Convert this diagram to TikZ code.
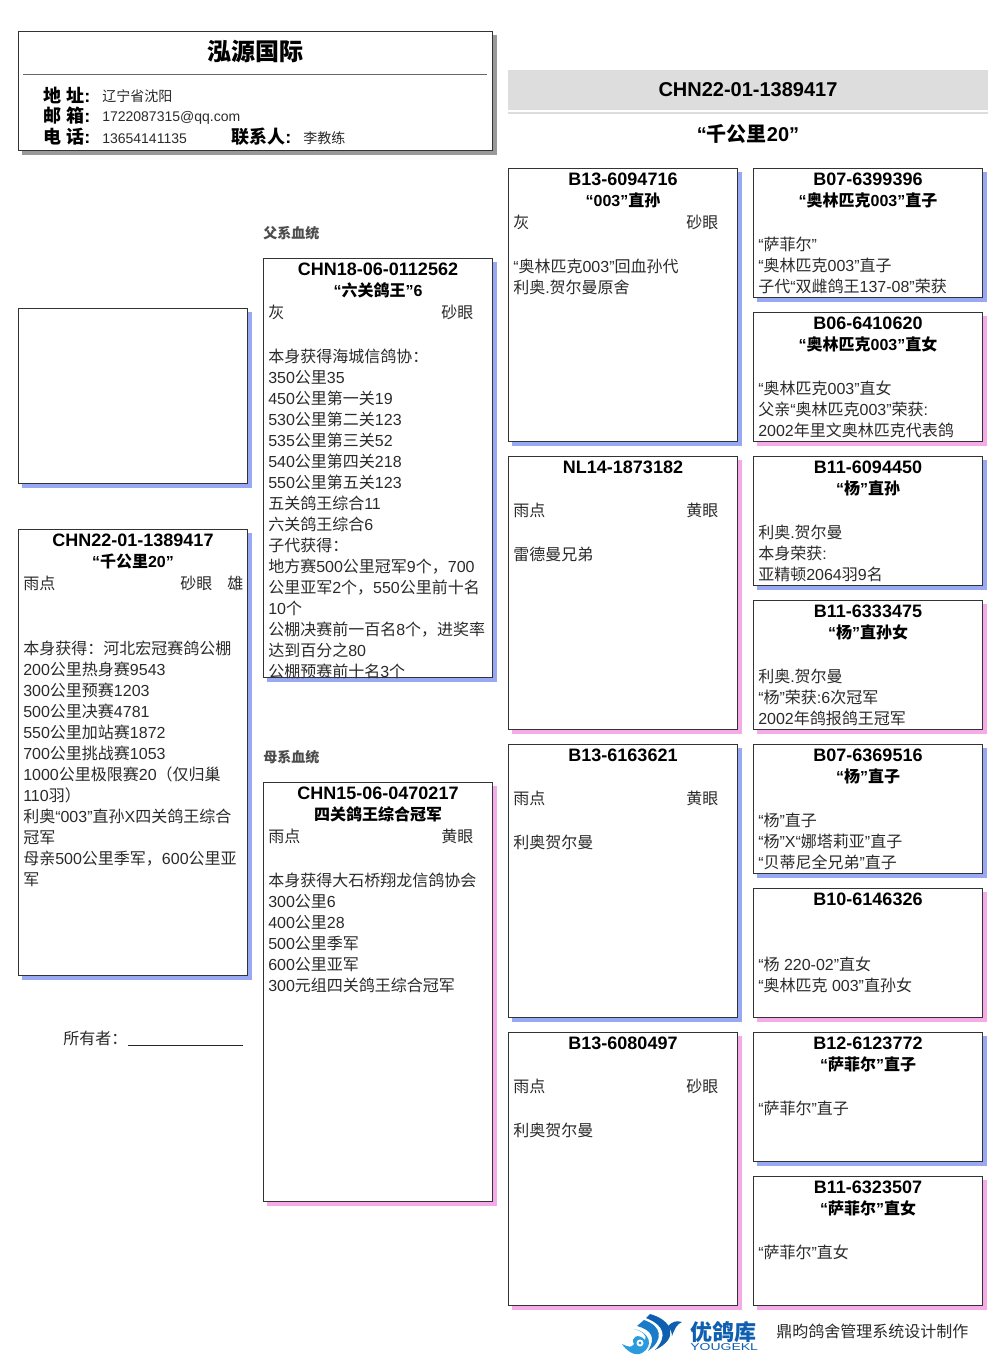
\documentclass[tikz,border=0pt]{standalone}
\usepackage{fontspec}
\setmainfont{Liberation Sans}
\newfontfamily\cjkfam{Noto Sans CJK SC}
\XeTeXinterchartokenstate=1
\newXeTeXintercharclass\cjkclass
\newcount\cjkcnt
\def\cjkrange#1#2{\cjkcnt=#1\relax\loop\XeTeXcharclass\cjkcnt=\cjkclass\ifnum\cjkcnt<#2\advance\cjkcnt by 1\repeat}
\cjkrange{"4E00}{"9FFF}
\cjkrange{"FF00}{"FFEF}
\cjkrange{"3000}{"303F}
\XeTeXinterchartoks 0 \cjkclass={\cjkfam}
\XeTeXinterchartoks 4095 \cjkclass={\cjkfam}
\XeTeXinterchartoks \cjkclass 0={\rmfamily}
\XeTeXinterchartoks \cjkclass 4095={\rmfamily}
\usetikzlibrary{calc}
\definecolor{sblue}{HTML}{99A8F2}
\definecolor{spink}{HTML}{F5ABE8}
\definecolor{sgray}{HTML}{999999}
\definecolor{txt}{HTML}{2A2A2A}
\definecolor{logoa}{HTML}{0F5FB0}
\definecolor{logob}{HTML}{2A9BDD}
\definecolor{logoc}{HTML}{1A7CC8}
\tikzset{
 x=0.75pt,y=-0.75pt,
 boxline/.style={draw=black!80,fill=white,line width=0.75pt,outer sep=0pt},
 idtext/.style={font=\fontsize{13.5}{15.75}\selectfont\bfseries,text=black,inner sep=0pt,anchor=center},
 titletext/.style={font=\fontsize{12}{15.75}\selectfont\bfseries,text=black,inner sep=0pt,anchor=center},
 bodytext/.style={font=\fontsize{12}{15.75}\selectfont,text=txt,inner sep=0pt,anchor=north west,align=left},
 smalltext/.style={font=\fontsize{10.5}{12}\selectfont,text=txt,inner sep=0pt,anchor=west},
 headlabel/.style={font=\fontsize{13.5}{15}\selectfont\bfseries,text=black,inner sep=0pt,anchor=west},
 sidelabel/.style={font=\fontsize{10.5}{12}\selectfont\bfseries,text=black!70,inner sep=0pt,anchor=west},
 bannertext/.style={font=\fontsize{15}{18}\selectfont\bfseries,text=black,inner sep=0pt,anchor=center},
}
% #1 name #2 x0 #3 y0 #4 x1 #5 y1 #6 shadow colour
\newcommand{\cardbox}[6]{%
 \fill[#6] (#2+4,#3+4) rectangle (#4+4,#5+4);
 \node[boxline,minimum width=(#4-#2-0.5)*0.75pt,minimum height=(#5-#3-0.5)*0.75pt,inner sep=0pt,anchor=north west] (#1) at (#2+0.25,#3+0.25) {};}
% small card: name x y h colour id title body bodyY
\newcommand{\smallcard}[9]{%
 \cardbox{#1}{#2}{#3}{#2+230}{#3+#4}{#5}
 \node[idtext] (#1id) at (#2+115,#3+11) {#6};
 \node[titletext] (#1t) at (#2+115,#3+32) {#7};
 \node[bodytext] (#1b) at (#2+5,#3+#9) {#8};}
\newcommand{\eyerow}[6]{%
 \node[bodytext,anchor=west] (#1c) at (#2+5,#3) {#4};
 \node[bodytext,anchor=west] (#1e) at (#5,#3) {#6};}
\begin{document}
\begin{tikzpicture}
\useasboundingbox (0,0) rectangle (1006,1366);
\fill[white] (0,0) rectangle (1006,1366);

% Header
\cardbox{head}{18}{31}{493}{151}{sgray}
\draw[black!60,line width=0.75pt] (23,74.5) -- (487,74.5);
\node[font=\fontsize{18}{20}\selectfont\bfseries,text=black,inner sep=0pt] (htitle) at (255.5,51) {泓源国际};
\node[headlabel] (l1) at (43,95) {地 址:};
\node[headlabel] (l2) at (43,116) {邮 箱:};
\node[headlabel] (l3) at (43,137) {电 话:};
\node[smalltext] (v1) at (102,96) {辽宁省沈阳};
\node[smalltext] (v2) at (102,118) {1722087315@qq.com};
\node[smalltext] (v3) at (102,139) {13654141135};
\node[headlabel] (l4) at (231,137) {联系人:};
\node[smalltext] (v4) at (303,138) {李教练};

% Banner
\fill[black!13.5] (508,70) rectangle (988,110);
\fill[black!13.5] (508,112) rectangle (988,114);
\node[bannertext] (ring) at (748,90) {CHN22-01-1389417};
\node[bannertext] (name) at (748,134) {“千公里20”};

% Photo
\cardbox{photo}{18}{308}{248}{484}{sblue}

% Main pigeon
\cardbox{main}{18}{529}{248}{976}{sblue}
\node[idtext] (mainid) at (133,540) {CHN22-01-1389417};
\node[titletext] (maint) at (133,561) {“千公里20”};
\node[bodytext,anchor=west] (mainc) at (23,583) {雨点};
\node[bodytext,anchor=west] (maine) at (180,583) {砂眼};
\node[bodytext,anchor=west] (mains) at (227,583) {雄};
\node[bodytext] (mainb) at (23,641) {本身获得：河北宏冠赛鸽公棚\\200公里热身赛9543\\300公里预赛1203\\500公里决赛4781\\550公里加站赛1872\\700公里挑战赛1053\\1000公里极限赛20（仅归巢\\110羽）\\利奥“003”直孙X四关鸽王综合\\冠军\\母亲500公里季军，600公里亚\\军};
\node[bodytext,anchor=west] (owner) at (63,1038) {所有者：};
\coordinate (ownera) at (128,1045.5);
\coordinate (ownerb) at (243,1045.5);
\draw[black!85,line width=0.75pt] (ownera) -- (ownerb);

% Father
\node[sidelabel] (fl) at (263,233.5) {父系血统};
\cardbox{fa}{263}{258}{493}{678}{sblue}
\node[idtext] (faid) at (378,269) {CHN18-06-0112562};
\node[titletext] (fat) at (378,290) {“六关鸽王”6};
\eyerow{fa}{263}{312}{灰}{441}{砂眼}
\begin{scope}
\clip (263,258) rectangle (493,678);
\node[bodytext] (fab) at (268,349) {本身获得海城信鸽协：\\350公里35\\450公里第一关19\\530公里第二关123\\535公里第三关52\\540公里第四关218\\550公里第五关123\\五关鸽王综合11\\六关鸽王综合6\\子代获得：\\地方赛500公里冠军9个，700\\公里亚军2个，550公里前十名\\10个\\公棚决赛前一百名8个，进奖率\\达到百分之80\\公棚预赛前十名3个};
\end{scope}
\draw[black!80,line width=0.75pt] (fa.north west) rectangle (fa.south east);

% Mother
\node[sidelabel] (ml) at (263,757.5) {母系血统};
\cardbox{mo}{263}{782}{493}{1202}{spink}
\node[idtext] (moid) at (378,793) {CHN15-06-0470217};
\node[titletext] (mot) at (378,814) {四关鸽王综合冠军};
\eyerow{mo}{263}{836}{雨点}{441}{黄眼}
\node[bodytext] (mob) at (268,873) {本身获得大石桥翔龙信鸽协会\\300公里6\\400公里28\\500公里季军\\600公里亚军\\300元组四关鸽王综合冠军};

% Grandparents
\cardbox{ga}{508}{168}{738}{442}{sblue}
\node[idtext] (gaid) at (623,179) {B13-6094716};
\node[titletext] (gat) at (623,200) {“003”直孙};
\eyerow{ga}{508}{222}{灰}{686}{砂眼}
\node[bodytext] (gab) at (513,259) {“奥林匹克003”回血孙代\\利奥.贺尔曼原舍};

\cardbox{gb}{508}{456}{738}{730}{spink}
\node[idtext] (gbid) at (623,467) {NL14-1873182};
\eyerow{gb}{508}{510}{雨点}{686}{黄眼}
\node[bodytext] (gbb) at (513,547) {雷德曼兄弟};

\cardbox{gc}{508}{744}{738}{1018}{sblue}
\node[idtext] (gcid) at (623,755) {B13-6163621};
\eyerow{gc}{508}{798}{雨点}{686}{黄眼}
\node[bodytext] (gcb) at (513,835) {利奥贺尔曼};

\cardbox{gd}{508}{1032}{738}{1306}{spink}
\node[idtext] (gdid) at (623,1043) {B13-6080497};
\eyerow{gd}{508}{1086}{雨点}{686}{砂眼}
\node[bodytext] (gdb) at (513,1123) {利奥贺尔曼};

% Great-grandparents
\smallcard{ha}{753}{168}{130}{sblue}{B07-6399396}{“奥林匹克003”直子}{“萨菲尔”\\“奥林匹克003”直子\\子代“双雌鸽王137-08”荣获}{69}
\smallcard{hb}{753}{312}{130}{spink}{B06-6410620}{“奥林匹克003”直女}{“奥林匹克003”直女\\父亲“奥林匹克003”荣获:\\2002年里文奥林匹克代表鸽}{69}
\smallcard{hc}{753}{456}{130}{sblue}{B11-6094450}{“杨”直孙}{利奥.贺尔曼\\本身荣获:\\亚精顿2064羽9名}{69}
\smallcard{hd}{753}{600}{130}{spink}{B11-6333475}{“杨”直孙女}{利奥.贺尔曼\\“杨”荣获:6次冠军\\2002年鸽报鸽王冠军}{69}
\smallcard{he}{753}{744}{130}{sblue}{B07-6369516}{“杨”直子}{“杨”直子\\“杨”X“娜塔莉亚”直子\\“贝蒂尼全兄弟”直子}{69}
\smallcard{hf}{753}{888}{130}{spink}{B10-6146326}{}{“杨 220-02”直女\\“奥林匹克 003”直孙女}{69}
\smallcard{hg}{753}{1032}{130}{sblue}{B12-6123772}{“萨菲尔”直子}{“萨菲尔”直子}{69}
\smallcard{hh}{753}{1176}{130}{spink}{B11-6323507}{“萨菲尔”直女}{“萨菲尔”直女}{69}

% Footer logo
\fill[logoa] (650,1314) .. controls (672,1320) and (680,1338) .. (655,1350) .. controls (668,1336) and (664,1325) .. (646,1318) -- cycle;
\fill[logoc] (644,1320) .. controls (662,1326) and (664,1340) .. (648,1351) .. controls (656,1338) and (652,1330) .. (637,1326) -- cycle;
\fill[logob] (634,1329) .. controls (650,1332) and (654,1346) .. (642,1353) .. controls (634,1357) and (626,1350) .. (622,1344) .. controls (628,1347) and (632,1348) .. (634,1344) .. controls (630,1338) and (638,1332) .. (645,1340) .. controls (648,1336) and (642,1331) .. (634,1329) -- cycle;
\fill[white] (640,1343) circle (3.5);
\fill[logob] (640,1343) circle (1.6);
\fill[logoa] (668,1326) .. controls (672,1322) and (676,1320) .. (682,1322) .. controls (677,1324) and (675,1328) .. (672,1336) .. controls (672,1332) and (670,1329) .. (668,1326) -- cycle;
\node[font=\fontsize{16.5}{18}\selectfont\bfseries,text=logoa,inner sep=0pt,anchor=west] (lg) at (690,1332) {优鸽库};
\node[font=\fontsize{7.5}{9}\selectfont,text=logoa,inner sep=0pt,anchor=west] (lgen) at (690,1347) {\scalebox{1.4}[1]{YOUGEKL}};
\node[smalltext,font=\fontsize{12}{14}\selectfont] (credit) at (776,1331) {鼎昀鸽舍管理系统设计制作};
\end{tikzpicture}
\end{document}
